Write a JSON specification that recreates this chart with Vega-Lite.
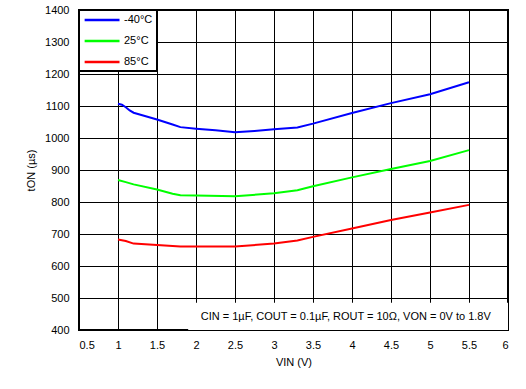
{
  "$schema": "https://vega.github.io/schema/vega-lite/v6.json",
  "width": 429,
  "height": 320,
  "autosize": {"type": "none"},
  "padding": {"left": 79, "top": 10, "right": 18, "bottom": 59},
  "background": "white",
  "config": {
    "font": "Liberation Sans",
    "view": {"stroke": "black", "strokeWidth": 2},
    "axis": {
      "grid": true, "gridColor": "black", "gridOpacity": 1, "gridWidth": 1,
      "domain": false, "ticks": false,
      "labelFont": "Liberation Sans", "labelFontSize": 11, "labelColor": "black",
      "titleFont": "Liberation Sans", "titleFontSize": 11, "titleFontWeight": "normal", "titleColor": "black"
    }
  },
  "datasets": {
    "curves": [
      {"vin": 1.0, "ton": 1107, "temp": "-40°C"},
      {"vin": 1.05, "ton": 1104, "temp": "-40°C"},
      {"vin": 1.1, "ton": 1096, "temp": "-40°C"},
      {"vin": 1.15, "ton": 1086, "temp": "-40°C"},
      {"vin": 1.2, "ton": 1079, "temp": "-40°C"},
      {"vin": 1.3, "ton": 1072, "temp": "-40°C"},
      {"vin": 1.5, "ton": 1058, "temp": "-40°C"},
      {"vin": 1.7, "ton": 1042, "temp": "-40°C"},
      {"vin": 1.8, "ton": 1034, "temp": "-40°C"},
      {"vin": 2.0, "ton": 1029, "temp": "-40°C"},
      {"vin": 2.25, "ton": 1024, "temp": "-40°C"},
      {"vin": 2.5, "ton": 1018, "temp": "-40°C"},
      {"vin": 2.75, "ton": 1022, "temp": "-40°C"},
      {"vin": 3.0, "ton": 1027, "temp": "-40°C"},
      {"vin": 3.3, "ton": 1033, "temp": "-40°C"},
      {"vin": 3.5, "ton": 1045, "temp": "-40°C"},
      {"vin": 4.0, "ton": 1078, "temp": "-40°C"},
      {"vin": 4.5, "ton": 1109, "temp": "-40°C"},
      {"vin": 5.0, "ton": 1137, "temp": "-40°C"},
      {"vin": 5.5, "ton": 1174, "temp": "-40°C"},
      {"vin": 1.0, "ton": 869, "temp": "25°C"},
      {"vin": 1.1, "ton": 862, "temp": "25°C"},
      {"vin": 1.2, "ton": 855, "temp": "25°C"},
      {"vin": 1.5, "ton": 839, "temp": "25°C"},
      {"vin": 1.7, "ton": 826, "temp": "25°C"},
      {"vin": 1.8, "ton": 821, "temp": "25°C"},
      {"vin": 2.0, "ton": 820, "temp": "25°C"},
      {"vin": 2.5, "ton": 818, "temp": "25°C"},
      {"vin": 3.0, "ton": 827, "temp": "25°C"},
      {"vin": 3.3, "ton": 837, "temp": "25°C"},
      {"vin": 3.5, "ton": 849, "temp": "25°C"},
      {"vin": 4.0, "ton": 877, "temp": "25°C"},
      {"vin": 4.5, "ton": 903, "temp": "25°C"},
      {"vin": 5.0, "ton": 928, "temp": "25°C"},
      {"vin": 5.5, "ton": 962, "temp": "25°C"},
      {"vin": 1.0, "ton": 683, "temp": "85°C"},
      {"vin": 1.1, "ton": 678, "temp": "85°C"},
      {"vin": 1.2, "ton": 670, "temp": "85°C"},
      {"vin": 1.5, "ton": 666, "temp": "85°C"},
      {"vin": 1.8, "ton": 661, "temp": "85°C"},
      {"vin": 2.0, "ton": 661, "temp": "85°C"},
      {"vin": 2.5, "ton": 661, "temp": "85°C"},
      {"vin": 3.0, "ton": 670, "temp": "85°C"},
      {"vin": 3.3, "ton": 680, "temp": "85°C"},
      {"vin": 3.5, "ton": 691, "temp": "85°C"},
      {"vin": 4.0, "ton": 717, "temp": "85°C"},
      {"vin": 4.5, "ton": 744, "temp": "85°C"},
      {"vin": 5.0, "ton": 767, "temp": "85°C"},
      {"vin": 5.5, "ton": 791, "temp": "85°C"}
    ],
    "note": [
      {"xa": 1.9, "xb": 6, "ya": 400, "yb": 485, "xt": 3.92, "yt": 442, "label": "CIN = 1µF, COUT = 0.1µF, ROUT = 10Ω, VON = 0V to 1.8V"}
    ]
  },
  "layer": [
    {
      "data": {"name": "note"},
      "mark": {"type": "rect", "fill": "white"},
      "encoding": {
        "x": {"field": "xa", "type": "quantitative", "scale": {"domain": [0.5, 6], "nice": false, "zero": false},
              "axis": {"tickCount": 12, "format": "~g", "title": "VIN (V)", "labelPadding": 9, "titlePadding": 6}},
        "x2": {"field": "xb"},
        "y": {"field": "ya", "type": "quantitative", "scale": {"domain": [400, 1400], "nice": false, "zero": false},
              "axis": {"tickCount": 10, "format": "d", "title": "tON (µs)", "labelPadding": 10, "titlePadding": 8}},
        "y2": {"field": "yb"}
      }
    },
    {
      "data": {"name": "note"},
      "mark": {"type": "text", "fontSize": 11, "font": "Liberation Sans", "color": "black", "align": "center", "baseline": "middle"},
      "encoding": {
        "x": {"field": "xt", "type": "quantitative"},
        "y": {"field": "yt", "type": "quantitative"},
        "text": {"field": "label"}
      }
    },
    {
      "data": {"name": "curves"},
      "mark": {"type": "line", "strokeWidth": 2},
      "encoding": {
        "x": {"field": "vin", "type": "quantitative"},
        "y": {"field": "ton", "type": "quantitative"},
        "color": {
          "field": "temp", "type": "nominal",
          "scale": {"domain": ["-40°C", "25°C", "85°C"], "range": ["#0000FF", "#00FF00", "#FF0000"]},
          "legend": {
            "title": null, "orient": "top-left", "offset": 0, "padding": 4,
            "strokeColor": "black", "fillColor": "white", "cornerRadius": 0,
            "symbolType": "M-1,0H7", "symbolSize": 76, "symbolStrokeWidth": 2.5,
            "labelFontSize": 11, "labelFont": "Liberation Sans", "labelColor": "black", "labelOffset": 29, "rowPadding": 10,
            "encode": {"legend": {"update": {"strokeWidth": {"value": 2}}}}
          }
        }
      }
    }
  ]
}
